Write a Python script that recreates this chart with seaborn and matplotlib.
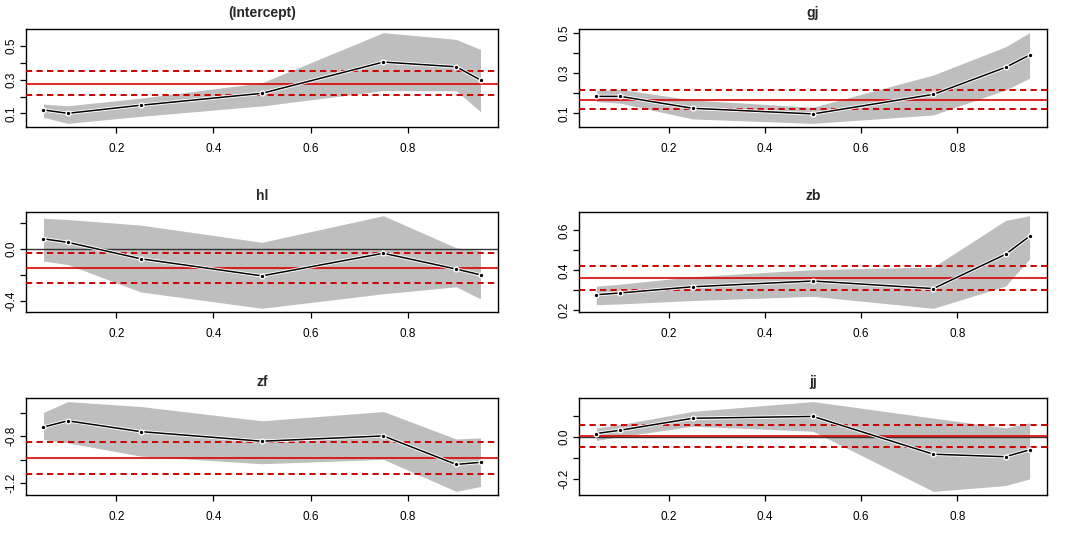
import numpy as np
import pandas as pd
import seaborn as sns
import matplotlib
matplotlib.use('Agg')
import matplotlib.pyplot as plt

# quantiles
taus = [0.05, 0.1, 0.25, 0.5, 0.75, 0.9, 0.95]

# quantile regression coefficients, band and OLS lines
intercept_coef = [0.120, 0.100, 0.148, 0.219, 0.405, 0.377, 0.298]
intercept_upper = [0.155, 0.145, 0.190, 0.282, 0.580, 0.540, 0.480]
intercept_lower = [0.076, 0.040, 0.082, 0.144, 0.235, 0.235, 0.110]
intercept_ols = [0.274, 0.209, 0.351]

gj_coef = [0.184, 0.184, 0.125, 0.097, 0.194, 0.328, 0.389]
gj_upper = [0.212, 0.219, 0.166, 0.130, 0.290, 0.430, 0.500]
gj_lower = [0.158, 0.150, 0.072, 0.050, 0.092, 0.216, 0.274]
gj_ols = [0.168, 0.123, 0.216]

hl_coef = [0.080, 0.053, -0.075, -0.208, -0.032, -0.155, -0.200]
hl_upper = [0.240, 0.230, 0.187, 0.053, 0.260, 0.010, -0.010]
hl_lower = [-0.093, -0.120, -0.333, -0.460, -0.347, -0.293, -0.387]
hl_ols = [-0.149, -0.264, -0.032]

zb_coef = [0.277, 0.286, 0.317, 0.346, 0.308, 0.480, 0.571]
zb_upper = [0.320, 0.330, 0.368, 0.403, 0.416, 0.650, 0.674]
zb_lower = [0.227, 0.231, 0.248, 0.269, 0.209, 0.320, 0.457]
zb_ols = [0.363, 0.303, 0.423]

zf_coef = [-0.721, -0.668, -0.760, -0.842, -0.797, -1.040, -1.022]
zf_upper = [-0.597, -0.504, -0.546, -0.668, -0.589, -0.823, -0.814]
zf_lower = [-0.828, -0.856, -0.969, -1.034, -0.997, -1.270, -1.228]
zf_ols = [-0.983, -1.118, -0.845]

jj_coef = [0.017, 0.033, 0.090, 0.099, -0.082, -0.094, -0.061]
jj_upper = [0.044, 0.060, 0.123, 0.170, 0.091, 0.044, 0.068]
jj_lower = [-0.016, 0.002, 0.052, 0.028, -0.260, -0.232, -0.200]
jj_ols = [0.005, -0.049, 0.057]

panels = [
    ("(Intercept)", intercept_coef, intercept_lower, intercept_upper, intercept_ols,
     [0.1, 0.2, 0.3, 0.4, 0.5], [0.1, 0.3, 0.5]),
    ("gj", gj_coef, gj_lower, gj_upper, gj_ols,
     [0.1, 0.2, 0.3, 0.4, 0.5], [0.1, 0.3, 0.5]),
    ("hl", hl_coef, hl_lower, hl_upper, hl_ols,
     [-0.4, -0.2, 0.0, 0.2], [-0.4, 0.0]),
    ("zb", zb_coef, zb_lower, zb_upper, zb_ols,
     [0.2, 0.3, 0.4, 0.5, 0.6], [0.2, 0.4, 0.6]),
    ("zf", zf_coef, zf_lower, zf_upper, zf_ols,
     [-1.2, -1.0, -0.8, -0.6], [-1.2, -0.8]),
    ("jj", jj_coef, jj_lower, jj_upper, jj_ols,
     [-0.2, -0.1, 0.0, 0.1], [-0.2, 0.0]),
]

sns.set_theme(style="white")
plt.rcParams['font.family'] = ['Liberation Sans', 'DejaVu Sans']

fig = plt.figure(figsize=(10.84, 5.44), dpi=100)

# axes boxes in figure fractions (left, bottom, width, height)
cols = [(0.024, 0.4354), (0.5341, 0.4317)]
rows = [(0.7665, 0.1801), (0.4265, 0.1838), (0.0901, 0.1783)]

dash = (0, (3.2, 2.2))

for i, (title, coef, lower, upper, ols, yticks, ylabeled) in enumerate(panels):
    left, width = cols[i % 2]
    bottom, height = rows[i // 2]
    ax = fig.add_axes([left, bottom, width, height])

    df = pd.DataFrame({"tau": taus, "coef": coef, "lower": lower, "upper": upper})

    ax.fill_between(df["tau"], df["lower"], df["upper"], color="#bebebe", lw=0, zorder=1)

    ymin = min(df["lower"].min(), min(ols))
    ymax = max(df["upper"].max(), max(ols))
    ext = (ymax - ymin) * 0.04
    ax.set_ylim(ymin - ext, ymax + ext)
    ax.set_xlim(0.05 - 0.036, 0.95 + 0.036)

    ax.axhline(0, color="#333333", lw=1.0, zorder=2)
    ax.axhline(ols[0], color="#e00000", lw=1.2, zorder=3)
    ax.axhline(ols[1], color="#d00000", lw=1.4, ls=dash, zorder=3)
    ax.axhline(ols[2], color="#d00000", lw=1.4, ls=dash, zorder=3)

    sns.lineplot(data=df, x="tau", y="coef", color="white", lw=2.4, ax=ax, zorder=4)
    sns.lineplot(data=df, x="tau", y="coef", color="black", lw=1.1, ax=ax, zorder=5,
                 marker="o", markersize=3.4, markerfacecolor="black",
                 markeredgecolor="white", markeredgewidth=1.0)

    ax.set_title(title, fontsize=10, fontweight="bold", pad=8.5)
    ax.set_xlabel("")
    ax.set_ylabel("")
    ax.set_xticks([0.2, 0.4, 0.6, 0.8])
    ax.set_xticklabels(["0.2", "0.4", "0.6", "0.8"])
    ax.set_yticks(yticks)
    ax.set_yticklabels([f"{t:.1f}" if t in ylabeled else "" for t in yticks],
                       rotation=90, va="center")
    ax.tick_params(axis="both", which="both", direction="out", length=4.3, width=0.9,
                   color="black", labelsize=8.5, labelcolor="black", left=True, bottom=True)
    ax.tick_params(axis="x", pad=7)
    ax.tick_params(axis="y", pad=1.5)
    for sp in ax.spines.values():
        sp.set_color("black")
        sp.set_linewidth(1.0)
    ax.grid(False)
    if ax.get_legend() is not None:
        ax.get_legend().remove()

fig.savefig("out.png", dpi=100, facecolor="white")
